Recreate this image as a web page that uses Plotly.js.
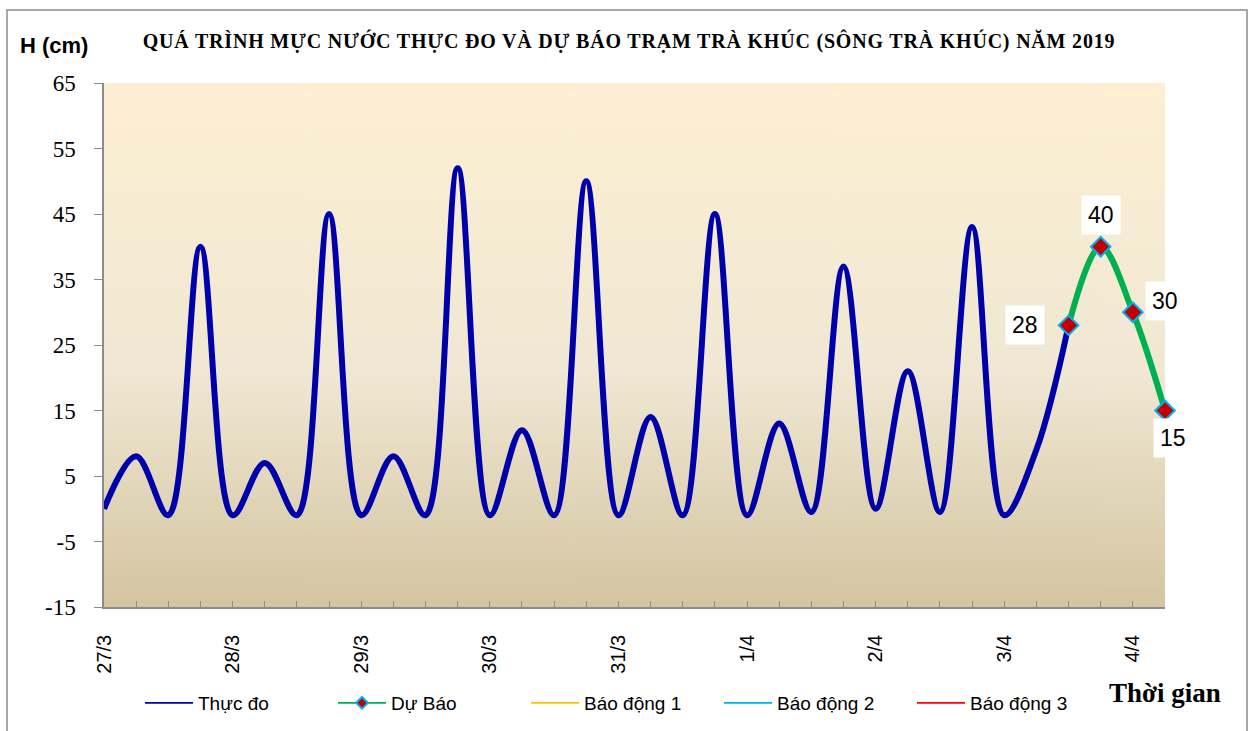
<!DOCTYPE html>
<html>
<head>
<meta charset="utf-8">
<script src="https://cdn.plot.ly/plotly-3.0.1.min.js"></script>
<style>
  html, body { margin: 0; padding: 0; background: #ffffff; }
  #chart { width: 1256px; height: 731px; }
  #chart .gtitle { letter-spacing: 0.8px; }
</style>
</head>
<body>
<div id="chart"></div>
<script>
// ---- Data ----
const times = [
  '27/3 00h','27/3 06h','27/3 12h','27/3 18h',
  '28/3 00h','28/3 06h','28/3 12h','28/3 18h',
  '29/3 00h','29/3 06h','29/3 12h','29/3 18h',
  '30/3 00h','30/3 06h','30/3 12h','30/3 18h',
  '31/3 00h','31/3 06h','31/3 12h','31/3 18h',
  '1/4 00h','1/4 06h','1/4 12h','1/4 18h',
  '2/4 00h','2/4 06h','2/4 12h','2/4 18h',
  '3/4 00h','3/4 06h','3/4 12h','3/4 18h',
  '4/4 00h','4/4 06h'
];
const dayLabels = ['27/3','28/3','29/3','30/3','31/3','1/4','2/4','3/4','4/4'];

const observedTimes = times.slice(0, 31);
const observedValues = [0, 8, -1, 40, -1, 7, -1, 45, -1, 8, -1, 52, -1, 12, -1, 50,
                        -1, 14, -1, 45, -1, 13, -0.5, 37, 0, 21, -0.5, 43, -1, 9, 28];

const forecastTimes = ['3/4 12h', '3/4 18h', '4/4 00h', '4/4 06h'];
const forecastValues = [28, 40, 30, 15];

const seriesNames = ['Thực đo', 'Dự Báo', 'Báo động 1', 'Báo động 2', 'Báo động 3'];
const seriesColors = ['#0000AA', '#00B050', '#FFC000', '#00B0F0', '#FF0000'];

const yTicks = [-15, -5, 5, 15, 25, 35, 45, 55, 65];
const yTickText = yTicks.map(v => String(v));

// ---- Tick text: day label at 00h, blank otherwise ----
const tickText = times.map(t => {
  const d = t.split(' ')[0];
  return (t.endsWith('00h') && dayLabels.indexOf(d) >= 0) ? d : '';
});

// ---- Gradient background image ----
function gradientURL() {
  const c = document.createElement('canvas');
  c.width = 8; c.height = 512;
  const g = c.getContext('2d');
  const grd = g.createLinearGradient(0, 0, 0, 512);
  grd.addColorStop(0, '#FDEFD2');
  grd.addColorStop(0.55, '#F0E8D4');
  grd.addColorStop(1, '#D4C5A1');
  g.fillStyle = grd;
  g.fillRect(0, 0, 8, 512);
  return c.toDataURL('image/png');
}

const serif = '"Liberation Serif", "Times New Roman", serif';
const sans = '"Liberation Sans", Arial, sans-serif';

const traces = [
  {
    x: observedTimes, y: observedValues, type: 'scatter', mode: 'lines',
    line: { color: seriesColors[0], width: 6, shape: 'spline', smoothing: 1 },
    showlegend: false, hoverinfo: 'x+y'
  },
  {
    x: forecastTimes, y: forecastValues, type: 'scatter', mode: 'lines+markers',
    line: { color: seriesColors[1], width: 6, shape: 'spline', smoothing: 1 },
    marker: { symbol: 'diamond', size: 15, color: '#C00000', line: { color: '#00B0F0', width: 2 } },
    cliponaxis: false,
    showlegend: false, hoverinfo: 'x+y'
  },
  // legend-only entries (thin lines, as in the reference legend); a single empty point each
  {
    x: [times[0]], y: [null], type: 'scatter', mode: 'lines', name: seriesNames[0],
    line: { color: seriesColors[0], width: 1.8 }, hoverinfo: 'skip'
  },
  {
    x: [times[0]], y: [null], type: 'scatter', mode: 'lines+markers', name: seriesNames[1],
    line: { color: seriesColors[1], width: 1.8 },
    marker: { symbol: 'diamond', size: 9, color: '#C00000', line: { color: '#00B0F0', width: 2 } },
    hoverinfo: 'skip'
  },
  {
    x: [times[0]], y: [null], type: 'scatter', mode: 'lines', name: seriesNames[2],
    line: { color: seriesColors[2], width: 1.8 }, hoverinfo: 'skip'
  },
  {
    x: [times[0]], y: [null], type: 'scatter', mode: 'lines', name: seriesNames[3],
    line: { color: seriesColors[3], width: 1.8 }, hoverinfo: 'skip'
  },
  {
    x: [times[0]], y: [null], type: 'scatter', mode: 'lines', name: seriesNames[4],
    line: { color: seriesColors[4], width: 1.8 }, hoverinfo: 'skip'
  }
];

// data labels for the forecast points
const labelShifts = [[-44, 0], [0, 32], [32, 11], [8, -27]];
const dataLabels = forecastValues.map((v, i) => ({
  x: forecastTimes[i], y: v, xref: 'x', yref: 'y',
  text: String(v), showarrow: false,
  xshift: labelShifts[i][0], yshift: labelShifts[i][1],
  bgcolor: '#FFFFFF', borderpad: 6,
  font: { family: sans, size: 23, color: '#000000' }
}));

const layout = {
  width: 1256, height: 731,
  margin: { l: 104, r: 91, t: 83, b: 124 },
  paper_bgcolor: '#FFFFFF',
  plot_bgcolor: 'rgba(0,0,0,0)',
  title: {
    text: '<b>QUÁ TRÌNH MỰC NƯỚC THỰC ĐO VÀ DỰ BÁO TRẠM TRÀ KHÚC (SÔNG TRÀ KHÚC) NĂM 2019</b>',
    font: { family: serif, size: 20, color: '#000000' },
    xref: 'container', yref: 'container', x: 0.5008, y: 1 - 41 / 731,
    xanchor: 'center', yanchor: 'middle'
  },
  xaxis: {
    type: 'category',
    categoryorder: 'array', categoryarray: times,
    range: [0, times.length - 1],
    tickmode: 'array', tickvals: times, ticktext: tickText,
    tickangle: -90,
    ticks: 'inside', ticklen: 6, tickwidth: 1.2, tickcolor: '#8C8C8C',
    showline: true, linecolor: '#8C8C8C', linewidth: 1.5,
    showgrid: false, zeroline: false, automargin: false,
    ticklabelstandoff: 18,
    tickfont: { family: sans, size: 20, color: '#000000' }
  },
  yaxis: {
    range: [-15, 65],
    tickmode: 'array', tickvals: yTicks, ticktext: yTickText,
    ticks: 'outside', ticklen: 8, tickwidth: 1.2, tickcolor: '#8C8C8C',
    showline: true, linecolor: '#8C8C8C', linewidth: 1.5,
    showgrid: false, zeroline: false, automargin: false,
    ticklabelstandoff: 14,
    tickfont: { family: serif, size: 23, color: '#000000' }
  },
  images: [{
    source: gradientURL(), xref: 'paper', yref: 'paper',
    x: 0, y: 1, sizex: 1, sizey: 1, sizing: 'stretch',
    xanchor: 'left', yanchor: 'top', layer: 'below'
  }],
  legend: {
    orientation: 'h',
    xref: 'container', yref: 'container',
    x: 140 / 1256, y: (731 - 703) / 731,
    xanchor: 'left', yanchor: 'middle',
    itemwidth: 48,
    entrywidth: 130, entrywidthmode: 'pixels',
    font: { family: sans, size: 19, color: '#000000' },
    bgcolor: 'rgba(0,0,0,0)'
  },
  shapes: [{
    type: 'rect', xref: 'paper', yref: 'paper',
    x0: (7 - 104) / 1061, x1: (1247 - 104) / 1061,
    y0: (607 - 740) / 524, y1: (607 - 10) / 524,
    line: { color: '#8C8C8C', width: 1.5 }, fillcolor: 'rgba(0,0,0,0)'
  }],
  annotations: dataLabels.concat([
    {
      text: '<b>H (cm)</b>', xref: 'paper', yref: 'paper',
      x: (18 - 104) / 1061, y: (607 - 46) / 524, xanchor: 'left', yanchor: 'middle',
      showarrow: false, font: { family: sans, size: 22, color: '#000000' }
    },
    {
      text: '<b>Thời gian</b>', xref: 'paper', yref: 'paper',
      x: (1165 - 104) / 1061, y: (607 - 693) / 524, xanchor: 'center', yanchor: 'middle',
      showarrow: false, font: { family: serif, size: 27, color: '#000000' }
    }
  ]),
  hovermode: 'closest'
};

Plotly.newPlot('chart', traces, layout, { displayModeBar: false, responsive: false });
</script>
</body>
</html>
